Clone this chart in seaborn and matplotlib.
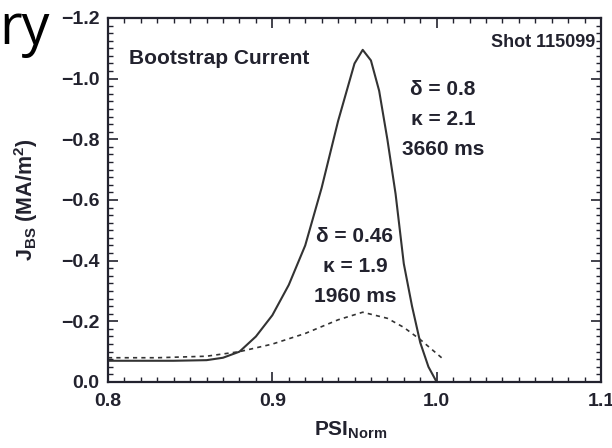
import matplotlib
matplotlib.use("Agg")
import matplotlib.pyplot as plt
from matplotlib.ticker import MultipleLocator, FuncFormatter
import seaborn as sns
import pandas as pd

# Bootstrap current profile, shot 115099
psi_3660 = [0.80, 0.82, 0.84, 0.86, 0.87, 0.88, 0.89, 0.90, 0.91, 0.92, 0.93,
            0.94, 0.95, 0.955, 0.96, 0.965, 0.97, 0.975, 0.98, 0.985, 0.99,
            0.995, 1.0]
jbs_3660 = [-0.07, -0.07, -0.07, -0.072, -0.08, -0.10, -0.15, -0.22, -0.32,
            -0.45, -0.64, -0.86, -1.05, -1.095, -1.06, -0.96, -0.80, -0.62,
            -0.39, -0.25, -0.13, -0.05, 0.0]

psi_1960 = [0.80, 0.83, 0.86, 0.88, 0.90, 0.92, 0.94, 0.955, 0.97, 0.98,
            0.99, 1.003]
jbs_1960 = [-0.08, -0.08, -0.085, -0.10, -0.125, -0.16, -0.205, -0.23,
            -0.21, -0.18, -0.14, -0.08]

x_ticks = [0.8, 0.9, 1.0, 1.1]
y_ticks = [0.0, -0.2, -0.4, -0.6, -0.8, -1.0, -1.2]

ink = "#22222e"
line_col = "#333333"

sns.set_theme(style="ticks")
plt.rcParams["font.family"] = ["Liberation Sans", "DejaVu Sans"]

fig = plt.figure(figsize=(6.12, 4.48), dpi=100)
ax = fig.add_axes([108 / 612, 1 - 382 / 448, (601 - 108) / 612, (382 - 18) / 448])

df_a = pd.DataFrame({"psi": psi_3660, "jbs": jbs_3660})
df_b = pd.DataFrame({"psi": psi_1960, "jbs": jbs_1960})
sns.lineplot(data=df_a, x="psi", y="jbs", ax=ax, color=line_col, lw=1.5,
             sort=False, estimator=None)
sns.lineplot(data=df_b, x="psi", y="jbs", ax=ax, color=line_col, lw=1.2,
             sort=False, estimator=None, linestyle=(0, (2.5, 2.5)))

ax.set_xlim(0.8, 1.1)
ax.set_ylim(0.0, -1.2)
ax.set_xticks(x_ticks)
ax.set_yticks(y_ticks)
ax.xaxis.set_minor_locator(MultipleLocator(0.01))
ax.yaxis.set_minor_locator(MultipleLocator(0.025))
fmt = FuncFormatter(lambda v, p: f"{v:.1f}".replace("-", "\u2212"))
ax.xaxis.set_major_formatter(fmt)
ax.yaxis.set_major_formatter(fmt)

# IDL-style frame: inward ticks on all four sides
ax.tick_params(axis="both", which="both", direction="in", top=True, right=True,
               bottom=True, left=True, colors=ink, labelcolor=ink)
ax.tick_params(axis="both", which="major", length=7, width=1.2, labelsize=14)
ax.tick_params(axis="both", which="minor", length=3.5, width=1.0)
ax.tick_params(axis="x", which="major", pad=8)
ax.tick_params(axis="y", which="major", pad=6)
for lab in ax.get_xticklabels() + ax.get_yticklabels():
    lab.set_fontweight("bold")

for s in ax.spines.values():
    s.set_color(ink)
    s.set_linewidth(1.6)

ax.set_xlabel(r"PSI$_{\mathregular{Norm}}$", fontsize=15, fontweight="bold",
              color=ink)
ax.set_ylabel(r"J$_{\mathregular{BS}}$ (MA/m$^{\mathregular{2}}$)", fontsize=15.5,
              fontweight="bold", color=ink)
ax.xaxis.set_label_coords(0.493, -0.102)
ax.yaxis.set_label_coords(-0.138, 0.5)

ax.text(0.813, -1.065, "Bootstrap Current", fontsize=15, fontweight="bold",
        color=ink, va="center", ha="left")
ax.text(1.0964, -1.12, "Shot 115099", fontsize=13, fontweight="bold",
        color=ink, va="center", ha="right")

for label, yy in [("\u03b4 = 0.8", -0.965), ("\u03ba = 2.1", -0.865), ("3660 ms", -0.765)]:
    ax.text(1.0039, yy, label, fontsize=15, fontweight="bold", color=ink,
            ha="center", va="center")
for label, yy in [("\u03b4 = 0.46", -0.479), ("\u03ba = 1.9", -0.380), ("1960 ms", -0.281)]:
    ax.text(0.9503, yy, label, fontsize=15, fontweight="bold", color=ink,
            ha="center", va="center")

fig.text(50 / 612, 1 - 44 / 448, "ry", fontsize=40, color="black",
         ha="right", va="baseline", family=["Open Sans", "DejaVu Sans"])

fig.savefig("out.png", dpi=100)
